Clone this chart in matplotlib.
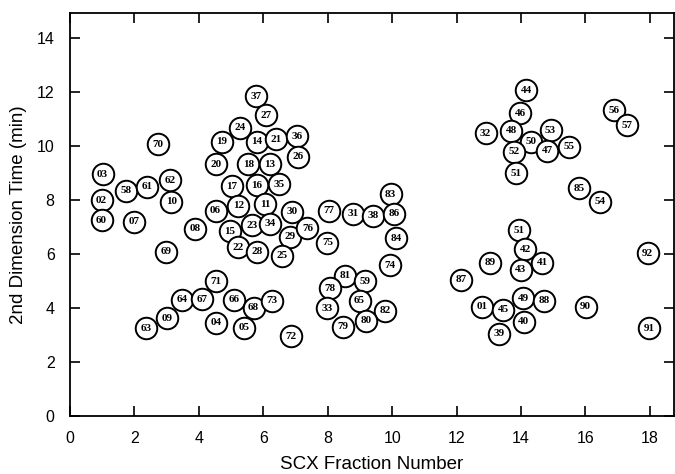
import matplotlib
matplotlib.use("Agg")
import matplotlib.pyplot as plt

labels = ["03", "58", "02", "60", "07", "61", "62", "10", "69", "08", "06", "70",
          "37", "27", "24", "19", "14", "21", "36", "26", "20", "18", "13", "17", "16", "35",
          "12", "11", "30", "15", "23", "34", "29", "76", "22", "28", "25", "77", "75",
          "71", "64", "67", "66", "68", "73", "09", "63", "04", "05", "72",
          "83", "31", "38", "86", "84", "74", "81", "59", "78", "65", "33", "82", "80", "79",
          "44", "46", "32", "48", "50", "53", "52", "47", "55", "51", "85",
          "51", "42", "41", "89", "43", "87", "49", "88", "01", "45", "40", "39", "90",
          "56", "57", "54", "92", "91"]
x_fraction = [1.01, 1.74, 0.98, 0.98, 1.99, 2.40, 3.11, 3.14, 2.98, 3.89, 4.52, 2.74,
              5.78, 6.09, 5.28, 4.71, 5.80, 6.40, 7.05, 7.07, 4.54, 5.54, 6.20, 5.03, 5.80, 6.48,
              5.23, 6.06, 6.89, 4.97, 5.65, 6.20, 6.82, 7.37, 5.23, 5.80, 6.58, 8.04, 7.99,
              4.54, 3.47, 4.09, 5.08, 5.70, 6.27, 3.00, 2.36, 4.54, 5.41, 6.86,
              9.95, 8.79, 9.41, 10.05, 10.13, 9.93, 8.55, 9.17, 8.08, 8.99, 7.98, 9.79, 9.20, 8.48,
              14.17, 13.97, 12.90, 13.70, 14.30, 14.92, 13.78, 14.82, 15.49, 13.86, 15.80,
              13.94, 14.14, 14.66, 13.03, 13.99, 12.14, 14.07, 14.71, 12.80, 13.45, 14.09, 13.31, 16.01,
              16.89, 17.30, 16.45, 17.93, 17.98]
y_time = [8.96, 8.34, 8.00, 7.26, 7.20, 8.49, 8.74, 7.94, 6.09, 6.93, 7.60, 10.07,
          11.85, 11.15, 10.68, 10.16, 10.16, 10.26, 10.37, 9.60, 9.32, 9.32, 9.32, 8.52, 8.55, 8.58,
          7.78, 7.85, 7.57, 6.85, 7.07, 7.13, 6.64, 6.95, 6.25, 6.09, 5.93, 7.60, 6.41,
          5.00, 4.30, 4.32, 4.30, 4.01, 4.27, 3.62, 3.25, 3.46, 3.27, 2.96,
          8.21, 7.50, 7.41, 7.50, 6.58, 5.59, 5.19, 5.00, 4.73, 4.27, 3.99, 3.90, 3.53, 3.31,
          12.07, 11.21, 10.47, 10.56, 10.16, 10.59, 9.79, 9.83, 9.97, 8.99, 8.43,
          6.89, 6.17, 5.68, 5.68, 5.41, 5.04, 4.36, 4.27, 4.05, 3.93, 3.49, 3.04, 4.05,
          11.33, 10.78, 7.94, 6.03, 3.25]

x_ticks = [0, 2, 4, 6, 8, 10, 12, 14, 16, 18]
y_ticks = [0, 2, 4, 6, 8, 10, 12, 14]

plt.rcParams['font.family'] = ['Liberation Sans', 'DejaVu Sans']

fig = plt.figure(figsize=(6.75, 4.74), dpi=100)
ax = fig.add_axes([0.1037, 0.1224, 0.8948, 0.8502])

ax.plot(x_fraction, y_time, linestyle='none', marker='o', markersize=15.5,
        markerfacecolor='white', markeredgecolor='black', markeredgewidth=1.4, zorder=2)
for lab, xv, yv in zip(labels, x_fraction, y_time):
    ax.text(xv, yv, lab, ha='center', va='center', fontsize=8,
            family=['Liberation Serif', 'DejaVu Serif'], fontweight='bold', zorder=3)

ax.set_xlim(0, 18.75)
ax.set_ylim(0, 14.93)
ax.set_xticks(x_ticks)
ax.set_yticks(y_ticks)
ax.tick_params(direction='in', length=7, width=1.2, top=True, right=True,
               labelsize=11.5, pad=11)
for s in ax.spines.values():
    s.set_linewidth(1.3)

ax.set_xlabel("SCX Fraction Number", fontsize=13.5, labelpad=7)
ax.set_ylabel("2nd Dimension Time (min)", fontsize=13.5, labelpad=7)

fig.savefig("out.png", dpi=100)
